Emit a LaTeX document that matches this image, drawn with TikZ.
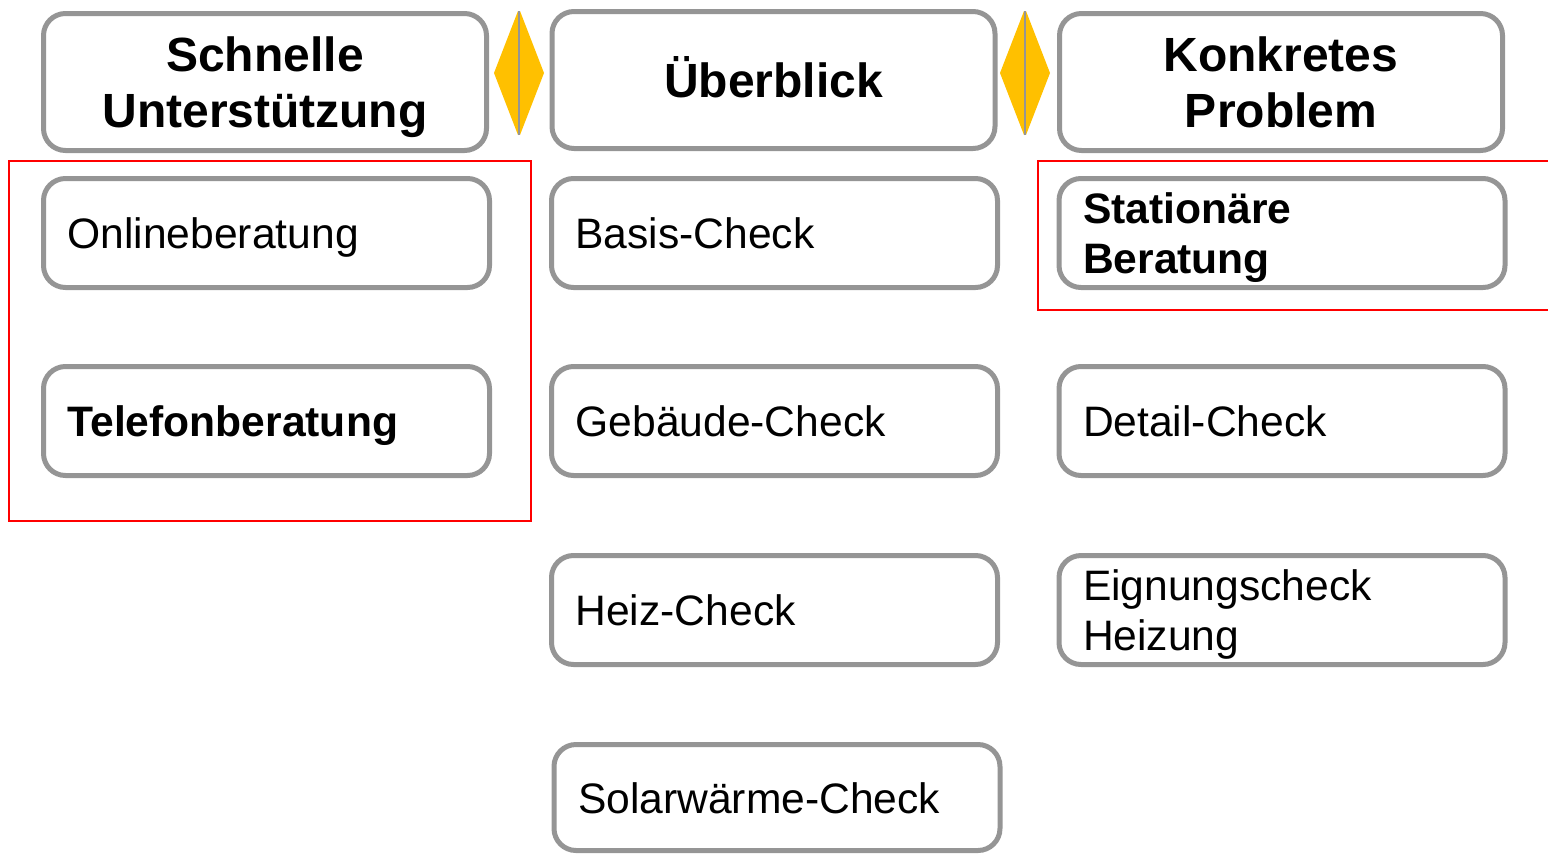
\documentclass[tikz,border=0pt]{standalone}
\usepackage{fontspec}
\setmainfont{Liberation Sans}
\definecolor{boxgray}{HTML}{959595}
\definecolor{gold}{HTML}{FFC000}
\definecolor{frame}{HTML}{FF0000}
\tikzset{
  card/.style={draw=boxgray, line width=5pt, rounded corners=22pt, fill=white,
    inner xsep=24pt, inner ysep=0pt, align=left, text=black,
    text height=31pt, text depth=0pt,
    font=\fontsize{42.6}{50}\selectfont},
  twolines/.style={text depth=50pt},
  boldtext/.style={font=\fontsize{42.6}{50}\selectfont\bfseries},
  headcard/.style={card, align=center, text height=35pt,
    font=\fontsize{48}{56}\selectfont\bfseries},
  headtwo/.style={text depth=56pt},
  wide/.style={minimum width=446pt, text width=398pt},
  headwide/.style={minimum width=443pt, text width=395pt, minimum height=137pt},
  rowh/.style={minimum height=109pt},
  redframe/.style={draw=frame, line width=1.5pt},
  halfdia/.style={fill=gold, draw=none},
}
\begin{document}
\begin{tikzpicture}[x=1pt,y=-1pt]
\useasboundingbox (0,0) rectangle (1548,855);
% red frames
\draw[redframe] (9,161) rectangle (531,521);
\draw[redframe] (1038,161) rectangle (1560,310);
% header cards
\node[headcard, headwide, headtwo] (h1) at (265,82) {Schnelle\\Unterstützung};
\node[headcard, headwide] (h2) at (773.5,80) {Überblick};
\node[headcard, headwide, headtwo] (h3) at (1281,82) {Konkretes\\Problem};
% diamonds
\coordinate (d1) at (519,73);
\coordinate (d2) at (1025,73);
\foreach \c in {d1,d2}{
  \fill[halfdia] ([xshift=-25pt]\c) -- ([xshift=-1pt,yshift=-62pt]\c) -- ([xshift=-1pt,yshift=62pt]\c) -- cycle;
  \fill[halfdia] ([xshift=25pt]\c) -- ([xshift=1pt,yshift=-62pt]\c) -- ([xshift=1pt,yshift=62pt]\c) -- cycle;
  \draw[boxgray, line width=2pt] ([yshift=-62pt]\c) -- ([yshift=62pt]\c);
}
% column 1
\node[card, wide, rowh] (online) at (266.5,233) {Onlineberatung};
\node[card, wide, rowh, boldtext] (tel) at (266.5,421) {Telefonberatung};
% column 2
\node[card, wide, rowh] (basis) at (774.5,233) {Basis-Check};
\node[card, wide, rowh] (geb) at (774.5,421) {Gebäude-Check};
\node[card, wide, rowh] (heiz) at (774.5,610) {Heiz-Check};
\node[card, wide, minimum height=106pt] (solar) at (777,797.5) {Solarwärme-Check};
% column 3
\node[card, wide, rowh, boldtext, twolines] (stat) at (1282,233) {Stationäre\\Beratung};
\node[card, wide, rowh] (detail) at (1282,421) {Detail-Check};
\node[card, wide, rowh, twolines] (eign) at (1282,610) {Eignungscheck\\Heizung};
\end{tikzpicture}
\end{document}
